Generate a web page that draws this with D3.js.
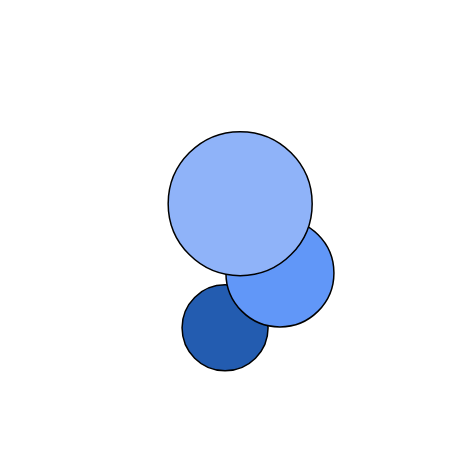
<!DOCTYPE html>
<html><head><meta charset="utf-8">
<script src="https://cdn.jsdelivr.net/npm/d3@7"></script>
<style>html,body{margin:0;padding:0;background:#fff;}</style>
</head><body>
<svg id="chart" width="465" height="465"></svg>
<script>
const categories = ["C", "B", "A"];
const values = [1849, 2916, 5184];
const xPos = [48.4, 60.2, 51.65];
const yPos = [70.5, 58.7, 43.8];
const colors = ["#235cb0", "#6197f8", "#8fb3f9"];

const W = 465, H = 465;
const svg = d3.select("#chart");
const x = d3.scaleLinear().domain([0, 100]).range([0, W]);
const y = d3.scaleLinear().domain([0, 100]).range([0, H]);
const r = d3.scaleSqrt().domain([0, d3.max(values)]).range([0, 72]);

const data = categories.map((c, i) => ({c, v: values[i], x: xPos[i], y: yPos[i], col: colors[i]}));

svg.selectAll("circle").data(data).join("circle")
  .attr("cx", d => x(d.x))
  .attr("cy", d => y(d.y))
  .attr("r", d => r(d.v))
  .attr("fill", d => d.col)
  .attr("stroke", "#000")
  .attr("stroke-width", 1.5);
</script>
</body></html>
